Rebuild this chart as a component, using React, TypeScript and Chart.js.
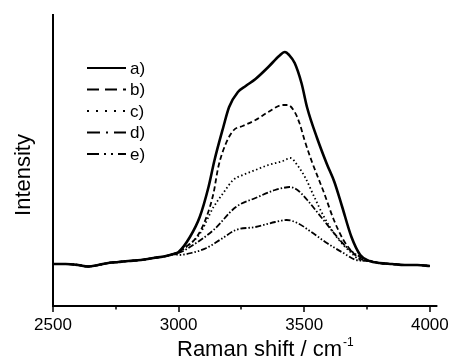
import { useEffect, useRef } from "react";
import { Chart, registerables } from "chart.js";

Chart.register(...registerables);

const FONT = "'Liberation Sans', Arial, sans-serif";

const seriesLabels = ["a)", "b)", "c)", "d)", "e)"];
const xTitle = "Raman shift / cm";
const xTitleSup = "-1";
const yTitle = "Intensity";

const xMajorTicks = [2500, 3000, 3500, 4000];
const xMinorTicks = [2750, 3250, 3750];
const xMin = 2500;
const xMax = 4030;
const yMin = 0;
const yMax = 292;

// shared baseline segments
const baseLeftX = [2500, 2550, 2600, 2640, 2680, 2720, 2760, 2800, 2850, 2900, 2950, 2980];
const baseLeftY = [42, 42, 41, 39.5, 41, 43, 44, 45, 46, 48, 50, 52];
const baseRightX = [3760, 3800, 3850, 3900, 3950, 4000];
const baseRightY = [45, 43, 42, 41, 41, 40];

// a) solid
const aX = [3000, 3045, 3084, 3119, 3143, 3178, 3201, 3236, 3267, 3306, 3357, 3400, 3423, 3440, 3462, 3489, 3512, 3551, 3590, 3620, 3650, 3688, 3723];
const aY = [54, 69, 89, 119, 146, 179, 199, 214, 220, 227, 239, 250, 254, 251, 243, 223, 198, 168, 142, 124, 100, 69, 51];
// b) dashed
const bX = [3000, 3022, 3072, 3111, 3139, 3158, 3189, 3220, 3255, 3306, 3357, 3415, 3435, 3462, 3481, 3501, 3528, 3579, 3618, 3656, 3703, 3734];
const bY = [54, 58, 69, 89, 113, 139, 163, 176, 180, 186, 194, 201, 201, 194, 183, 166, 146, 113, 86, 66, 51, 46];
// c) dotted
const cX = [3000, 3045, 3084, 3139, 3178, 3217, 3255, 3306, 3357, 3415, 3445, 3475, 3505, 3540, 3579, 3629, 3684, 3723];
const cY = [54, 62, 72, 99, 113, 126, 131, 136, 141, 145, 148, 140, 128, 109, 89, 69, 54, 46];
// d) dash-dot
const dX = [3000, 3045, 3139, 3228, 3306, 3384, 3415, 3442, 3473, 3512, 3567, 3618, 3668, 3723];
const dY = [53, 59, 76, 99, 108, 116, 118, 119, 116, 106, 89, 73, 59, 49];
// e) dash-dot-dot
const eX = [3000, 3050, 3111, 3170, 3228, 3306, 3384, 3430, 3473, 3528, 3590, 3656, 3707];
const eY = [51, 53, 58, 67, 76, 79, 84, 86, 83, 74, 63, 53, 46];

const seriesX = [aX, bX, cX, dX, eX];
const seriesY = [aY, bY, cY, dY, eY];

const lineDash = [[], [5, 3], [1.5, 2.5], [6, 2, 1.5, 2], [6, 2, 1.5, 2, 1.5, 2]];
const legendDash = [[], [12, 6], [2, 7], [13, 6, 2, 6], [12, 5, 2, 5, 2, 5]];
const lineWidths = [2.6, 1.8, 1.8, 1.8, 1.8];

function buildPoints(xs: number[], ys: number[]) {
  const allX = [...baseLeftX, ...xs, ...baseRightX];
  const allY = [...baseLeftY, ...ys, ...baseRightY];
  return allX.map((x, i) => ({ x, y: allY[i] }));
}

const decor = {
  id: "decor",
  afterDatasetsDraw(chart: any) {
    const ctx = chart.ctx as CanvasRenderingContext2D;
    const { left, right, top, bottom } = chart.chartArea;
    const xs = chart.scales.x;
    ctx.save();
    ctx.strokeStyle = "#000";
    ctx.fillStyle = "#000";
    ctx.setLineDash([]);
    ctx.lineWidth = 2;
    ctx.beginPath();
    ctx.moveTo(left, top);
    ctx.lineTo(left, bottom + 1);
    ctx.moveTo(left - 1, bottom);
    ctx.lineTo(right, bottom);
    ctx.stroke();
    ctx.lineWidth = 1.5;
    ctx.beginPath();
    xMajorTicks.forEach((v) => {
      const px = Math.round(xs.getPixelForValue(v));
      ctx.moveTo(px, bottom);
      ctx.lineTo(px, bottom + 6);
    });
    xMinorTicks.forEach((v) => {
      const px = Math.round(xs.getPixelForValue(v));
      ctx.moveTo(px, bottom);
      ctx.lineTo(px, bottom + 3.5);
    });
    ctx.stroke();

    // legend
    ctx.font = `17px ${FONT}`;
    ctx.textBaseline = "middle";
    ctx.textAlign = "left";
    seriesLabels.forEach((lab, i) => {
      const y = 68 + i * 21.5;
      ctx.lineWidth = i === 0 ? 2.2 : 2;
      ctx.setLineDash(legendDash[i]);
      ctx.beginPath();
      ctx.moveTo(87, y);
      ctx.lineTo(126, y);
      ctx.stroke();
      ctx.setLineDash([]);
      ctx.fillText(lab, 130, y + 1);
    });

    // x title
    ctx.font = `22px ${FONT}`;
    ctx.textBaseline = "alphabetic";
    ctx.textAlign = "left";
    const w = ctx.measureText(xTitle).width;
    const tx = 177;
    ctx.fillText(xTitle, tx, 356);
    ctx.font = `12px ${FONT}`;
    ctx.fillText(xTitleSup, tx + w + 1, 346);

    // y title
    ctx.translate(24, 175);
    ctx.rotate(-Math.PI / 2);
    ctx.font = `22px ${FONT}`;
    ctx.textAlign = "center";
    ctx.textBaseline = "middle";
    ctx.fillText(yTitle, 0, 0);
    ctx.restore();
  },
};

export default function App() {
  const ref = useRef<HTMLCanvasElement | null>(null);
  useEffect(() => {
    if (!ref.current) return;
    const chart = new Chart(ref.current, {
      type: "line",
      data: {
        datasets: seriesLabels.map((label, i) => ({
          label,
          data: buildPoints(seriesX[i], seriesY[i]),
          borderColor: "#000",
          backgroundColor: "#000",
          borderWidth: lineWidths[i],
          borderDash: lineDash[i],
          pointRadius: 0,
          fill: false,
          cubicInterpolationMode: "monotone" as const,
        })),
      },
      options: {
        animation: false,
        responsive: false,
        layout: { padding: { left: 53, right: 12, top: 14, bottom: 0 } },
        plugins: { legend: { display: false }, tooltip: { enabled: false } },
        scales: {
          x: {
            type: "linear",
            min: xMin,
            max: xMax,
            grid: { display: false, drawTicks: false },
            border: { display: false },
            afterBuildTicks: (scale: any) => {
              scale.ticks = xMajorTicks.map((v) => ({ value: v }));
            },
            afterFit: (scale: any) => {
              scale.height = 52;
            },
            ticks: {
              color: "#000",
              font: { family: FONT, size: 17 },
              padding: 9,
              maxRotation: 0,
              autoSkip: false,
              callback: (v: any) => String(v),
            },
          },
          y: {
            display: false,
            min: yMin,
            max: yMax,
          },
        },
      },
      plugins: [decor],
    });
    return () => chart.destroy();
  }, []);
  return (
    <div style={{ position: "absolute", left: 0, top: 0, width: 458, height: 358, background: "#fff" }}>
      <canvas ref={ref} width={458} height={358} style={{ width: 458, height: 358, display: "block" }} />
    </div>
  );
}
